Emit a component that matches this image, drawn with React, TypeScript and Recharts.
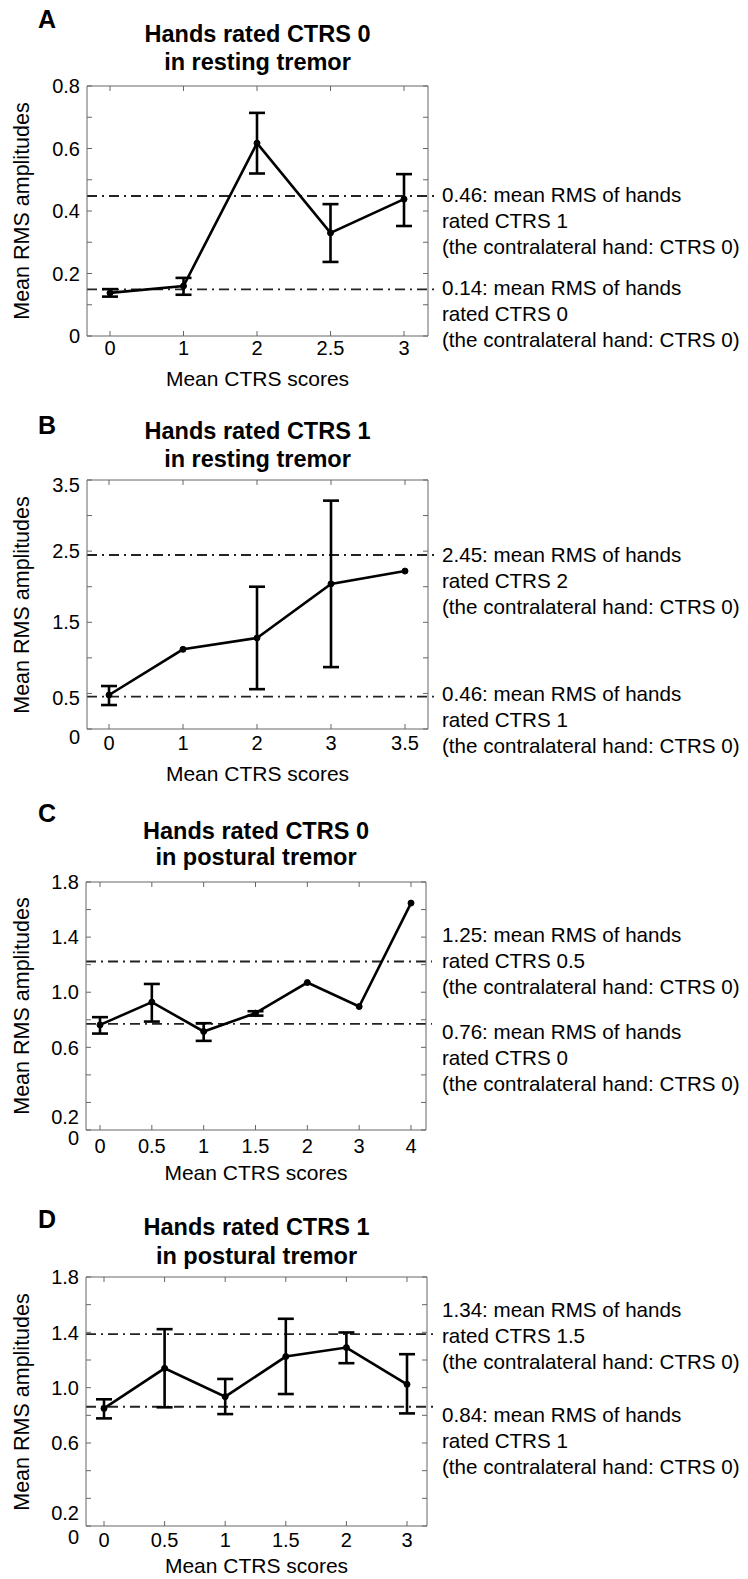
import React from 'react';
import { LineChart, Line, XAxis, YAxis, ErrorBar, ReferenceLine } from 'recharts';

const FONT = '"Liberation Sans", Arial, Helvetica, sans-serif';
const BOX = '#666';

// A: hands rated CTRS 0, resting tremor
const catsA = ['0', '1', '2', '2.5', '3'];
const meanA = [0.138, 0.16, 0.617, 0.33, 0.438];
const loA = [0.126, 0.132, 0.52, 0.237, 0.352];
const hiA = [0.15, 0.186, 0.714, 0.422, 0.518];
const refA = [0.448, 0.149];
const yTicksA = [0, 0.1, 0.2, 0.3, 0.4, 0.5, 0.6, 0.7, 0.8];
const yLabelsA = ['0', '0.2', '0.4', '0.6', '0.8'];
const notesA = [
  ['0.46: mean RMS of hands', 'rated CTRS 1', '(the contralateral hand: CTRS 0)'],
  ['0.14: mean RMS of hands', 'rated CTRS 0', '(the contralateral hand: CTRS 0)'],
];

// B: hands rated CTRS 1, resting tremor
const catsB = ['0', '1', '2', '3', '3.5'];
const meanB = [0.478, 1.12, 1.28, 2.04, 2.22];
const loB = [0.337, null, 0.56, 0.87, null];
const hiB = [0.604, null, 2.0, 3.21, null];
const refB = [2.446, 0.455];
const yTicksB = [0, 0.5, 1, 1.5, 2, 2.5, 3, 3.5];
const yLabelsB = ['0', '0.5', '1.5', '2.5', '3.5'];
const notesB = [
  ['2.45: mean RMS of hands', 'rated CTRS 2', '(the contralateral hand: CTRS 0)'],
  ['0.46: mean RMS of hands', 'rated CTRS 1', '(the contralateral hand: CTRS 0)'],
];

// C: hands rated CTRS 0, postural tremor
const catsC = ['0', '0.5', '1', '1.5', '2', '3', '4'];
const meanC = [0.763, 0.928, 0.715, 0.848, 1.07, 0.896, 1.647];
const loC = [0.7, 0.787, 0.647, 0.83, null, null, null];
const hiC = [0.819, 1.06, 0.775, 0.862, null, null, null];
const refC = [1.223, 0.77];
const yTicksC = [0, 0.2, 0.4, 0.6, 0.8, 1, 1.2, 1.4, 1.6, 1.8];
const yLabelsC = ['0', '0.2', '0.6', '1.0', '1.4', '1.8'];
const notesC = [
  ['1.25: mean RMS of hands', 'rated CTRS 0.5', '(the contralateral hand: CTRS 0)'],
  ['0.76: mean RMS of hands', 'rated CTRS 0', '(the contralateral hand: CTRS 0)'],
];

// D: hands rated CTRS 1, postural tremor
const catsD = ['0', '0.5', '1', '1.5', '2', '3'];
const meanD = [0.85, 1.14, 0.935, 1.225, 1.29, 1.024];
const loD = [0.778, 0.858, 0.809, 0.954, 1.177, 0.814];
const hiD = [0.916, 1.423, 1.063, 1.498, 1.399, 1.242];
const refD = [1.387, 0.862];
const yTicksD = [0, 0.2, 0.4, 0.6, 0.8, 1, 1.2, 1.4, 1.6, 1.8];
const yLabelsD = ['0', '0.2', '0.6', '1.0', '1.4', '1.8'];
const notesD = [
  ['1.34: mean RMS of hands', 'rated CTRS 1.5', '(the contralateral hand: CTRS 0)'],
  ['0.84: mean RMS of hands', 'rated CTRS 1', '(the contralateral hand: CTRS 0)'],
];

const build = (cats: string[], mean: number[], lo: (number | null)[], hi: (number | null)[]) =>
  cats.map((x, i) => ({
    x,
    y: mean[i],
    err: lo[i] == null || hi[i] == null ? null : [mean[i] - (lo[i] as number), (hi[i] as number) - mean[i]],
  }));

// page-pixel layout of each panel
const panels = [
  {
    letter: 'A', title: ['Hands rated CTRS 0', 'in resting tremor'], cats: catsA,
    data: build(catsA, meanA, loA, hiA), refs: refA, yTicks: yTicksA, yLabels: yLabelsA, notes: notesA,
    box: { l: 87, r: 428, t: 86, b: 336 }, pad: [23, 24], letterY: 19, titleY: [35, 63],
    xTickGap: 5, xLabelY: 378, noteY: [195, 288], shift: {} as Record<string, number>,
  },
  {
    letter: 'B', title: ['Hands rated CTRS 1', 'in resting tremor'], cats: catsB,
    data: build(catsB, meanB, loB, hiB), refs: refB, yTicks: yTicksB, yLabels: yLabelsB, notes: notesB,
    box: { l: 87, r: 428, t: 480, b: 729 }, pad: [22, 23], letterY: 425, titleY: [432, 460],
    xTickGap: 7, xLabelY: 773, noteY: [555, 694], shift: { '0': 8, '3.5': 5, '0.5': 4 } as Record<string, number>,
  },
  {
    letter: 'C', title: ['Hands rated CTRS 0', 'in postural tremor'], cats: catsC,
    data: build(catsC, meanC, loC, hiC), refs: refC, yTicks: yTicksC, yLabels: yLabelsC, notes: notesC,
    box: { l: 86, r: 426, t: 882, b: 1130 }, pad: [14, 15], letterY: 813, titleY: [832, 858],
    xTickGap: 9, xLabelY: 1172, noteY: [935, 1032], shift: { '0': 8, '0.2': 14 } as Record<string, number>,
  },
  {
    letter: 'D', title: ['Hands rated CTRS 1', 'in postural tremor'], cats: catsD,
    data: build(catsD, meanD, loD, hiD), refs: refD, yTicks: yTicksD, yLabels: yLabelsD, notes: notesD,
    box: { l: 86, r: 427, t: 1277, b: 1526 }, pad: [18, 20], letterY: 1219, titleY: [1228, 1257],
    xTickGap: 7, xLabelY: 1565, noteY: [1310, 1415], shift: { '0': 11, '0.2': 14 } as Record<string, number>,
  },
];

const W = 732;
const TICK = 5;

const Txt = ({ x, y, size, bold, rotate, children }: any) => (
  <div
    style={{
      position: 'absolute', left: x - 8, top: y - 8,
      transform: `translate(-50%, -50%)${rotate ? ' rotate(-90deg)' : ''}`,
      fontSize: size, fontWeight: bold ? 700 : 400, lineHeight: 1,
      whiteSpace: 'nowrap', fontFamily: FONT, color: '#000',
    }}
  >
    {children}
  </div>
);

const YTick = (props: any) => {
  const { x, y, payload, labels, shift } = props;
  const txt = labels.find((l: string) => Math.abs(parseFloat(l) - payload.value) < 1e-6);
  if (txt === undefined) return <g />;
  return (
    <text x={x} y={y + (shift[txt] || 0)} dy="0.36em" textAnchor="end" fontSize={20} fontFamily={FONT} fill="#000">
      {txt}
    </text>
  );
};

// dash-dot reference line, running a little past the right border
const RefShape = (p: any) => (
  <line x1={p.x1} y1={p.y1} x2={p.x2 + 6} y2={p.y2} stroke="#222" strokeWidth={1.8} strokeDasharray="10 5 2 5" />
);

// inward tick marks on the left and right borders
const YTickPair = (p: any) => (
  <g>
    <line x1={p.x1} y1={p.y1} x2={p.x1 + TICK} y2={p.y1} stroke={BOX} strokeWidth={1} />
    <line x1={p.x2 - TICK} y1={p.y2} x2={p.x2} y2={p.y2} stroke={BOX} strokeWidth={1} />
  </g>
);

// inward tick marks on the top and bottom borders
const XTickPair = (p: any) => {
  const top = Math.min(p.y1, p.y2);
  const bot = Math.max(p.y1, p.y2);
  return (
    <g>
      <line x1={p.x1} y1={top} x2={p.x1} y2={top + TICK} stroke={BOX} strokeWidth={1} />
      <line x1={p.x1} y1={bot - TICK} x2={p.x1} y2={bot} stroke={BOX} strokeWidth={1} />
    </g>
  );
};

const Panel = ({ p }: { p: (typeof panels)[number] }) => {
  const { box } = p;
  const plotH = box.b - box.t;
  const top = box.t - 8 - 10;
  const ymax = p.yTicks[p.yTicks.length - 1];
  return (
    <>
      <Txt x={47} y={p.letterY} size={25} bold>{p.letter}</Txt>
      <Txt x={(box.l + box.r) / 2} y={p.titleY[0]} size={23.5} bold>{p.title[0]}</Txt>
      <Txt x={(box.l + box.r) / 2} y={p.titleY[1]} size={23.5} bold>{p.title[1]}</Txt>
      <Txt x={23} y={(box.t + box.b) / 2} size={21.5} rotate>Mean RMS amplitudes</Txt>
      <Txt x={(box.l + box.r) / 2} y={p.xLabelY} size={21}>Mean CTRS scores</Txt>
      {p.notes.map((lines, i) => (
        <div
          key={i}
          style={{
            position: 'absolute', left: 442 - 8, top: p.noteY[i] - 12.6 - 8,
            fontSize: 20.6, lineHeight: '26px', fontFamily: FONT, whiteSpace: 'nowrap', color: '#000',
          }}
        >
          {lines.map((l) => <div key={l}>{l}</div>)}
        </div>
      ))}
      <div style={{ position: 'absolute', left: 0, top }}>
        <LineChart
          width={W}
          height={plotH + 10 + 40}
          data={p.data}
          margin={{ top: 10, right: W - (box.r - 8), bottom: 0, left: 0 }}
        >
          <XAxis
            xAxisId="main" dataKey="x" type="category" interval={0}
            padding={{ left: p.pad[0], right: p.pad[1] }} height={40}
            tickLine={false} tickSize={0} tickMargin={p.xTickGap}
            axisLine={{ stroke: BOX, strokeWidth: 1 }}
            tick={{ fontSize: 20, fontFamily: FONT, fill: '#000' }}
          />
          <XAxis
            xAxisId="tm" dataKey="x" type="category" interval={0} orientation="top" mirror height={1}
            padding={{ left: p.pad[0], right: p.pad[1] }}
            tick={false} tickLine={false} axisLine={{ stroke: BOX, strokeWidth: 1 }}
          />
          <YAxis
            yAxisId="main" type="number" domain={[0, ymax]} ticks={p.yTicks} interval={0} width={box.l - 8}
            tickLine={false} tickSize={0} tickMargin={7}
            axisLine={{ stroke: BOX, strokeWidth: 1 }}
            tick={(tp: any) => <YTick {...tp} labels={p.yLabels} shift={p.shift} />}
          />
          <YAxis
            yAxisId="rm" type="number" orientation="right" mirror width={1} domain={[0, ymax]} ticks={p.yTicks} interval={0}
            tick={false} tickLine={false} axisLine={{ stroke: BOX, strokeWidth: 1 }}
          />
          {p.yTicks.map((v) => (
            <ReferenceLine key={`yt${v}`} xAxisId="main" yAxisId="main" y={v} shape={YTickPair} />
          ))}
          {p.cats.map((c) => (
            <ReferenceLine key={`xt${c}`} xAxisId="main" yAxisId="main" x={c} shape={XTickPair} />
          ))}
          {p.refs.map((v) => (
            <ReferenceLine key={v} xAxisId="main" yAxisId="main" y={v} shape={RefShape} />
          ))}
          <Line
            xAxisId="main" yAxisId="main" dataKey="y" type="linear" stroke="#000" strokeWidth={2.6}
            dot={{ r: 3, fill: '#000', stroke: '#000', strokeWidth: 1 }} activeDot={false}
            isAnimationActive={false}
          >
            <ErrorBar dataKey="err" direction="y" width={8} stroke="#000" strokeWidth={2.6} isAnimationActive={false} />
          </Line>
        </LineChart>
      </div>
    </>
  );
};

export default function App() {
  return (
    <div style={{ position: 'relative', width: W, height: 1571, background: '#fff', fontFamily: FONT }}>
      {panels.map((p) => <Panel key={p.letter} p={p} />)}
    </div>
  );
}
